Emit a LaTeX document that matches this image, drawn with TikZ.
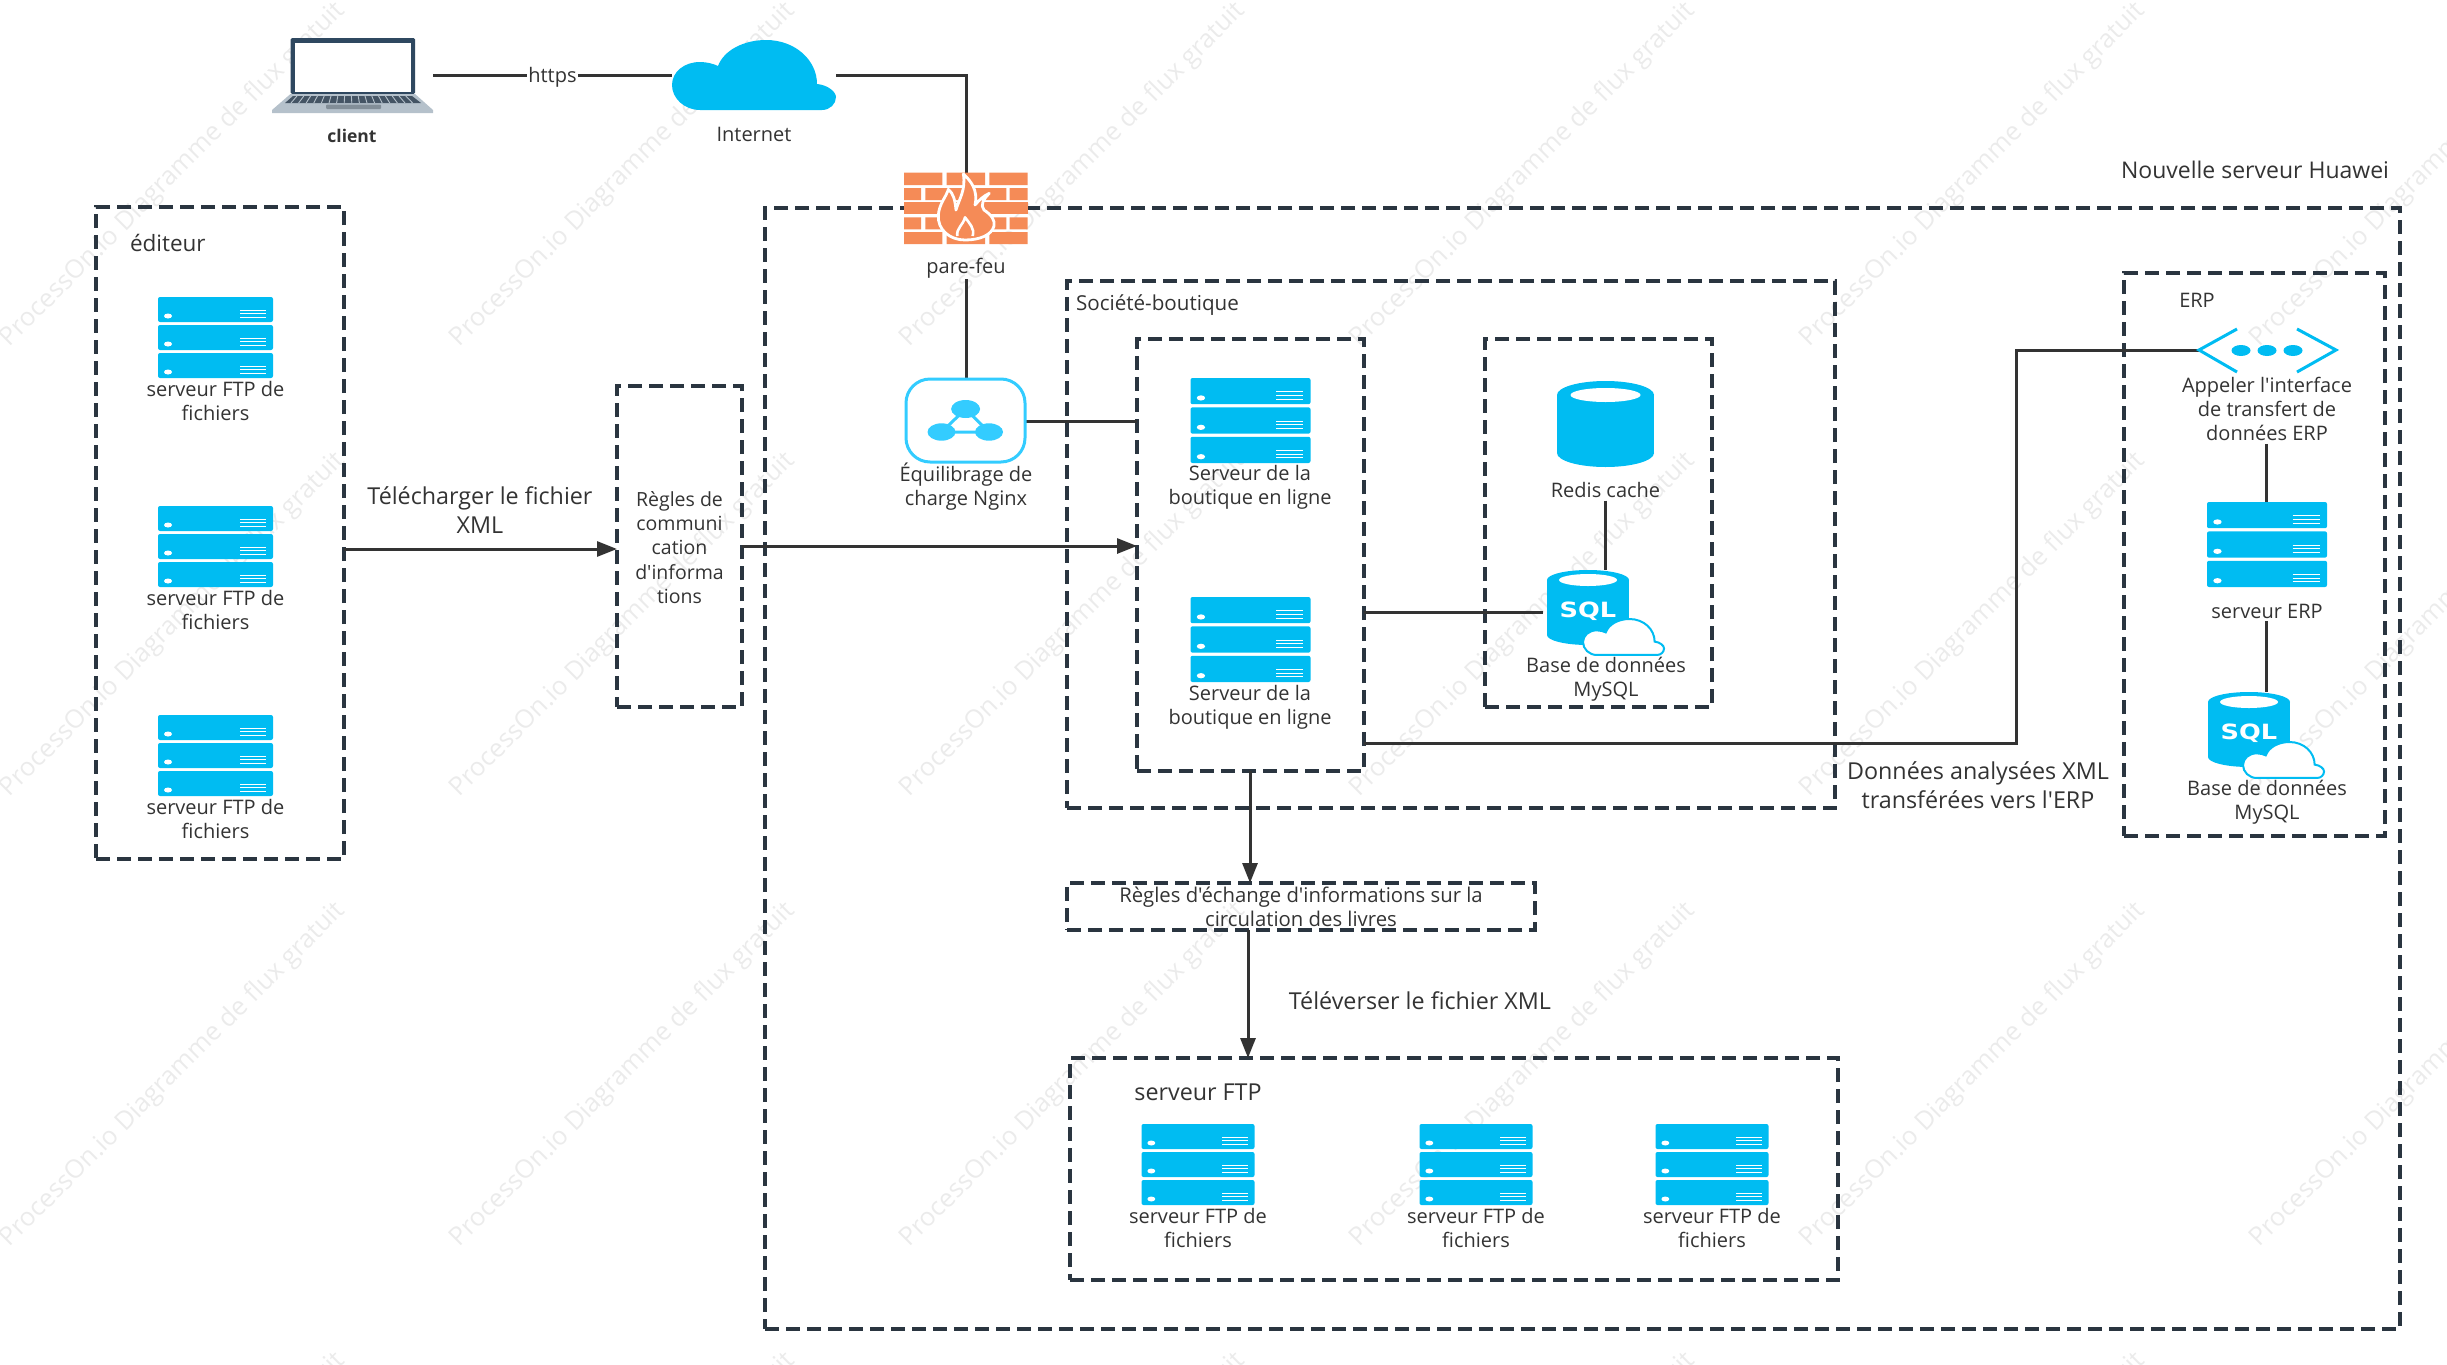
\documentclass[tikz,border=0pt]{standalone}
\usepackage{fontspec}
\usepackage{graphicx}
\setmainfont{Open Sans}[Ligatures=TeXOff]
\newfontfamily\sqlfont{DejaVu Sans}
\usetikzlibrary{arrows.meta,calc}
\definecolor{ink}{HTML}{333333}
\definecolor{dashink}{HTML}{2A3540}
\definecolor{azure}{HTML}{00BCF2}
\definecolor{lbblue}{HTML}{33CCFF}
\definecolor{brick}{HTML}{F58B57}
\definecolor{wmark}{HTML}{EBEBEB}
\tikzset{
  dashbox/.style={draw=dashink,line width=3.2pt,dash pattern=on 14pt off 7pt},
  iconbox/.style={},
  txt/.style={font=\fontsize{20}{24}\selectfont,text=ink,align=center,inner sep=0pt,outer sep=0pt},
  bigtxt/.style={font=\fontsize{23.3}{29}\selectfont,text=ink,align=center,inner sep=0pt,outer sep=0pt},
  conn/.style={draw=ink,line width=3pt},
  arrowconn/.style={draw=ink,line width=3pt,-{Triangle[length=20pt,width=15pt]}},
  wm/.style={font=\fontsize{25.6}{30}\selectfont,text=wmark,rotate=45,anchor=west,inner sep=0pt},
}
% rectangular named node from corners
\newcommand{\bx}[6]{%
  \pgfmathsetmacro{\bxw}{#5-#3}\pgfmathsetmacro{\bxh}{#6-#4}%
  \pgfmathsetmacro{\bxx}{(#3+#5)/2}\pgfmathsetmacro{\bxy}{(#4+#6)/2}%
  \node[#1,inner sep=0pt,outer sep=0pt,minimum width=\bxw pt,minimum height=\bxh pt] (#2) at (\bxx,\bxy) {};}
% server stack: cx, top, width, height
\newcommand{\serverstack}[4]{%
  \pgfmathsetmacro{\sxs}{#3/115}\pgfmathsetmacro{\sys}{#4/81}%
  \begin{scope}[shift={(#1-#3/2,#2)},xscale=\sxs,yscale=\sys]
    \foreach \t in {0,28,56}{
      \fill[azure,rounded corners=2pt] (0,\t) rectangle (115,\t+25);
      \fill[white] (10,\t+19) ellipse [x radius=4,y radius=2.5];
      \foreach \l in {13,16.7,20}{\draw[white,line width=0.9pt] (82,\t+\l) -- (108,\t+\l);}
    }
  \end{scope}}
% cylinder: x1,y1,x2,y2,ry,inner rx,inner ry
\newcommand{\cyl}[7]{%
  \pgfmathsetmacro{\cyc}{(#1+#3)/2}\pgfmathsetmacro{\cyr}{(#3-#1)/2}%
  \fill[azure] (#1,#2+#5) rectangle (#3,#4-#5);
  \fill[azure] (\cyc,#2+#5) ellipse [x radius=\cyr,y radius=#5];
  \fill[azure] (\cyc,#4-#5) ellipse [x radius=\cyr,y radius=#5];
  \fill[white] (\cyc,#2+#5) ellipse [x radius=#6,y radius=#7];}
\newcommand{\cloudpath}{(28,70) .. controls (12,70) and (0,58) .. (0,45) .. controls (0,32) and (12,22) .. (28,22) .. controls (35,22) and (42,24) .. (46,26) .. controls (52,10) and (72,0) .. (94,0) .. controls (123,0) and (145,20) .. (145,44) .. controls (156,45) and (164,52) .. (164,57) .. controls (164,64) and (158,70) .. (150,70) -- cycle}
\newcommand{\sqlicon}[4]{% x1,y1 of cylinder, cloud x1,y1
  \cyl{#1}{#2}{#1+82}{#2+75}{10}{29}{6}
  \node[text=white,inner sep=0pt] (sql#1) at (#1+41,#2+41) {\scalebox{1.22}[1]{\fontsize{21}{24}\sqlfont\bfseries SQL}};
  \begin{scope}[shift={(#3,#4)},xscale=0.494,yscale=0.514]
    \draw[azure,fill=white,line width=2pt] \cloudpath;
  \end{scope}}
\begin{document}
\begin{tikzpicture}[x=1pt,y=-1pt]
\useasboundingbox (0,0) rectangle (2447,1365);
\clip (0,0) rectangle (2447,1365);
% watermark
\foreach \wx in {5,455,905,1355,1805,2255}{
  \foreach \wy in {343,793,1243,1693}{
    \node[wm] (wm-\wx-\wy) at (\wx,\wy) {ProcessOn.io Diagramme de flux gratuit};
  }
}
% container boxes
\bx{dashbox}{editeur}{96}{207}{344}{859}
\bx{dashbox}{rules}{617}{386}{742}{707}
\bx{dashbox}{huawei}{765}{208}{2400}{1329}
\bx{dashbox}{societe}{1067}{281}{1835}{808}
\bx{dashbox}{boutique}{1137}{339}{1364}{771}
\bx{dashbox}{redisbox}{1485}{339}{1712}{707}
\bx{dashbox}{erpbox}{2124}{273}{2385}{836}
\bx{dashbox}{echange}{1067}{883}{1535}{930}
\bx{dashbox}{ftpbox}{1070}{1058}{1838}{1280}
% invisible icon frames
\bx{iconbox}{laptop}{272}{38}{433}{113}
\bx{iconbox}{internet}{672}{40}{836}{110}
\bx{iconbox}{firewall}{904}{173}{1028}{244}
\bx{iconbox}{nginx}{906}{379}{1025}{462}
\bx{iconbox}{redis}{1557}{381}{1654}{467}
\bx{iconbox}{mysqla}{1547}{570}{1629}{645}
\bx{iconbox}{mysqlb}{2208}{692}{2290}{767}
\bx{iconbox}{erpapi}{2199}{329}{2336}{372}
\bx{iconbox}{erpsrv}{2207}{502}{2327}{587}
\coordinate (yA) at (0,75);
\coordinate (yB) at (0,421);
\coordinate (yC) at (0,549);
\coordinate (yD) at (0,546);
\coordinate (yE) at (0,612);
\coordinate (yF) at (0,743);
\coordinate (yG) at (0,350);
\coordinate (xF) at (2016,0);
\coordinate (xH) at (1250,0);
\coordinate (xI) at (1248,0);
\coordinate (xJ) at (966,0);
\coordinate (xK) at (1605.5,0);
\coordinate (xL) at (2266,0);
% connectors
\draw[conn] (laptop.east |- yA) -- node[midway,yshift=-2pt,fill=white,inner xsep=1pt,inner ysep=3pt,font=\fontsize{20}{24}\selectfont,text=ink] (https) {https} (internet.west |- yA);
\draw[conn] (internet.east |- yA) -- (xJ |- yA) -- (firewall.north -| xJ);
\node[txt] (parefeu) at (966,268) {pare-feu};
\draw[conn] (parefeu.south -| xJ) ++(0,1) -- (nginx.north -| xJ);
\draw[conn] (nginx.east |- yB) -- (boutique.west |- yB);
\draw[arrowconn] (editeur.east |- yC) -- (rules.west |- yC);
\draw[arrowconn] (rules.east |- yD) -- (boutique.west |- yD);
\draw[conn] (boutique.east |- yE) -- ($(mysqla.west |- yE)+(-4,0)$);
\draw[conn] (boutique.east |- yF) -- (xF |- yF) -- (xF |- yG) -- (erpapi.west |- yG);
\draw[arrowconn] (boutique.south -| xH) -- (echange.north -| xH);
\draw[arrowconn] (echange.south -| xI) -- (ftpbox.north -| xI);
% client laptop
\fill[rounded corners=1.5pt,color={rgb,255:red,47;green,72;blue,96}] (290.5,38) rectangle (415,94);
\fill[white] (294.5,43) rectangle (410.5,92);
\fill[color={rgb,255:red,181;green,193;blue,203}] (290.5,94) -- (415,94) -- (433,110) -- (433,113) -- (272,113) -- (272,110) -- cycle;
\fill[color={rgb,255:red,68;green,84;blue,100}] (293,96) -- (412,96) -- (421,103) -- (285,103) -- cycle;
\foreach \kk in {0,1,...,16}{
  \draw[color={rgb,255:red,181;green,193;blue,203},line width=0.9pt] (297+\kk*6.8,96) -- (291+\kk*7.6,103);
}
\fill[rounded corners=1pt,color={rgb,255:red,130;green,142;blue,152}] (326,104.5) rectangle (381,109);
\node[txt,font=\fontsize{17.5}{22}\selectfont\bfseries] (client) at (352,136) {client};
% internet cloud
\begin{scope}[shift={(672,40)}]
  \fill[azure] \cloudpath;
\end{scope}
\node[txt] (internetlbl) at (754,134) {Internet};
% firewall
\begin{scope}[shift={(880,160)},scale=1/3]
  \fill[brick] (72,38) rectangle (187,75) (200,38) rectangle (315,75) (328,38) rectangle (443,75);
  \fill[brick] (72,84) rectangle (123,120) (136,84) rectangle (379,120) (389,84) rectangle (443,120);
  \fill[brick] (72,127) rectangle (443,163);
  \fill[brick] (72,172) rectangle (123,208) (136,172) rectangle (379,208) (389,172) rectangle (443,208);
  \fill[brick] (72,216) rectangle (187,252) (200,216) rectangle (315,252) (328,216) rectangle (443,252);
  \draw[white,fill=brick,line width=2.8pt,line join=round]
    (255,240) .. controls (210,240) and (172,210) .. (175,165)
    .. controls (178,130) and (198,112) .. (205,88)
    .. controls (220,100) and (225,120) .. (228,150)
    .. controls (238,115) and (258,90) .. (250,42)
    .. controls (272,62) and (295,90) .. (285,135)
    .. controls (298,120) and (310,108) .. (328,100)
    .. controls (310,118) and (300,135) .. (312,150)
    .. controls (335,165) and (345,180) .. (342,198)
    .. controls (335,225) and (300,240) .. (255,240) -- cycle;
  \draw[white,line width=2.6pt,line join=round] (232,228) .. controls (228,205) and (250,195) .. (255,172) .. controls (268,190) and (285,205) .. (278,228);
\end{scope}
% nginx load balancer
\draw[lbblue,line width=3pt,rounded corners=24pt] (nginx.south west) rectangle (nginx.north east);
\coordinate (lbT) at (965.6,409);
\coordinate (lbL) at (941.5,432);
\coordinate (lbR) at (989,432);
\draw[lbblue,line width=3pt] (lbT) -- (lbL) -- (lbR) -- cycle;
\fill[lbblue] (lbT) ellipse [x radius=14.5,y radius=9] (lbL) ellipse [x radius=14,y radius=8.7] (lbR) ellipse [x radius=14,y radius=8.7];
\node[txt] (nginxlbl) at (966,487) {Équilibrage de\\charge Nginx};
% editor
\node[bigtxt,anchor=west,font=\fontsize{22.5}{26}\selectfont] (editeurlbl) at (130,243) {éditeur};
\serverstack{215.5}{297}{115}{81}
\serverstack{215.5}{506}{115}{81}
\serverstack{215.5}{715}{115}{81}
\node[txt] (ftpa) at (215.5,401) {serveur FTP de\\fichiers};
\node[txt] (ftpb) at (215.5,610) {serveur FTP de\\fichiers};
\node[txt] (ftpc) at (215.5,819) {serveur FTP de\\fichiers};
\node[bigtxt] (telecharger) at (480,510) {Télécharger le fichier\\XML};
\node[txt,font=\fontsize{19.5}{24.3}\selectfont] (ruleslbl) at (679.5,547.5) {Règles de\\communi\\cation\\d'informa\\tions};
% societe
\node[txt,anchor=west,font=\fontsize{20.6}{24}\selectfont] (societelbl) at (1076,305) {Société-boutique};
\serverstack{1250.5}{378}{120}{85}
\serverstack{1250.5}{597}{120}{85}
\node[txt] (shopa) at (1250,487) {Serveur de la\\boutique en ligne};
\node[txt] (shopb) at (1250,707) {Serveur de la\\boutique en ligne};
% redis
\cyl{1557}{381}{1654}{467}{14}{35}{7}
\node[txt] (redislbl) at (1605.5,490) {Redis cache};
\draw[conn] (xK |- redislbl.south) ++(0,3) -- (mysqla.north -| xK);
\sqlicon{1547}{570}{1583}{619}
\node[txt] (dba) at (1606,679) {Base de données\\MySQL};
% erp
\node[txt] (erplbl) at (2197,300) {ERP};
\draw[azure,line width=3pt] (2237,329) -- (erpapi.west |- yG) -- (2237,372);
\draw[azure,line width=3pt] (2297,329) -- (erpapi.east |- yG) -- (2297,372);
\foreach \dx in {2241,2267,2293}{\fill[azure] (\dx,350.5) ellipse [x radius=9.5,y radius=5.5];}
\node[txt] (apilbl) at (2267,409) {Appeler l'interface\\de transfert de\\données ERP};
\draw[conn] (apilbl.south -| xL) ++(0,3) -- (erpsrv.north -| xL);
\serverstack{2267}{502}{120}{85}
\node[txt] (erpsrvlbl) at (2267,611) {serveur ERP};
\draw[conn] (erpsrvlbl.south -| xL) ++(0,3) -- (mysqlb.north -| xL);
\sqlicon{2208}{692}{2243}{742}
\node[txt] (dbb) at (2267,802) {Base de données\\MySQL};
% top label
\node[bigtxt,anchor=east,font=\fontsize{23}{29}\selectfont] (huaweilbl) at (2389,170) {Nouvelle serveur Huawei};
\node[bigtxt] (donnees) at (1978,785) {Données analysées XML\\transférées vers l'ERP};
\node[txt,font=\fontsize{20.3}{24}\selectfont] (echangelbl) at (1301,907) {Règles d'échange d'informations sur la\\circulation des livres};
\node[bigtxt] (televerser) at (1420,1001) {Téléverser le fichier XML};
% ftp
\node[bigtxt] (ftptitle) at (1198,1092) {serveur FTP};
\serverstack{1198}{1124}{113}{81}
\serverstack{1476}{1124}{113}{81}
\serverstack{1712}{1124}{113}{81}
\node[txt] (ftpd) at (1198,1228) {serveur FTP de\\fichiers};
\node[txt] (ftpe) at (1476,1228) {serveur FTP de\\fichiers};
\node[txt] (ftpf) at (1712,1228) {serveur FTP de\\fichiers};
\end{tikzpicture}
\end{document}
